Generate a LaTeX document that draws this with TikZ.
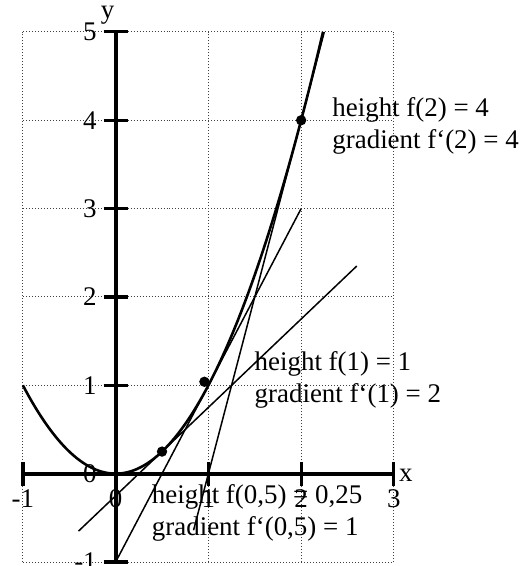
\documentclass[tikz,border=0pt]{standalone}
\usepackage{fontspec}
\setmainfont{Liberation Serif}
\begin{document}
\begin{tikzpicture}[x=46.5pt,y=44.3pt,font=\fontsize{13.5}{16.25}\selectfont,
  gridline/.style={densely dotted,line width=0.5pt,black!75},
  axisline/.style={line width=2pt},
  tickmark/.style={line width=1.6pt},
  curveline/.style={line width=1.3pt},
  tangentline/.style={line width=0.75pt},
  dotmark/.style={circle,fill=black,inner sep=0pt,minimum size=5.2pt},
  lbl/.style={inner sep=0pt},
  info/.style={inner sep=0pt,anchor=west,align=left}]
\useasboundingbox (-1.247,-1.045) rectangle (4.419,5.361);
% grid
\foreach \k in {-1,0,1,2,3} \draw[gridline] (\k,-1) -- (\k,5);
\foreach \k in {-1,0,1,2,3,4,5} \draw[gridline] (-1,\k) -- (3,\k);
% axes
\coordinate (xa) at (-1,0); \coordinate (xb) at (3,0);
\coordinate (ya) at (0,-1); \coordinate (yb) at (0,5);
\draw[axisline] (xa) -- (xb);
\draw[axisline] (ya) -- (yb);
\foreach \k in {-1,1,2,3} \draw[tickmark] (\k,0) ++(0,-6pt) -- ++(0,12pt);
\foreach \k in {-1,1,2,3,4,5} \draw[tickmark] (0,\k) ++(-6pt,0) -- ++(12pt,0);
% axis labels
\node[lbl] (ylab) at (-0.086,5.19) {y};
\node[lbl] (xlab) at (3.13,-0.02) {x};
\foreach \k in {-1,0,1,2,3,4,5} \node[lbl,anchor=east] (yl\k) at (-0.2,\k) {\k};
\foreach \k in {-1,0,1,2,3} \node[lbl] (xl\k) at (\k,-0.28) {\k};
% curve
\draw[curveline,domain=-1:2.236,samples=120,smooth] plot (\x,{\x*\x});
% tangents
\coordinate (ta1) at (-0.4,-0.65); \coordinate (tb1) at (2.6,2.35);
\coordinate (ta2) at (0,-1); \coordinate (tb2) at (2,3);
\coordinate (ta3) at (0.84,-0.64); \coordinate (tb3) at (2.25,5);
\draw[tangentline] (ta1) -- (tb1);
\draw[tangentline] (ta2) -- (tb2);
\draw[tangentline] (ta3) -- (tb3);
% points
\node[dotmark] (p1) at (0.5,0.25) {};
\node[dotmark] (p2) at (0.957,1.04) {};
\node[dotmark] (p3) at (2,4) {};
% texts
\node[info] (i3) at (2.333,3.933) {height f(2) = 4\\gradient f‘(2) = 4};
\node[info] (i2) at (1.495,1.061) {height f(1) = 1\\gradient f‘(1) = 2};
\node[info] (i1) at (0.387,-0.446) {height f(0,5) = 0,25\\gradient f‘(0,5) = 1};
\end{tikzpicture}
\end{document}
